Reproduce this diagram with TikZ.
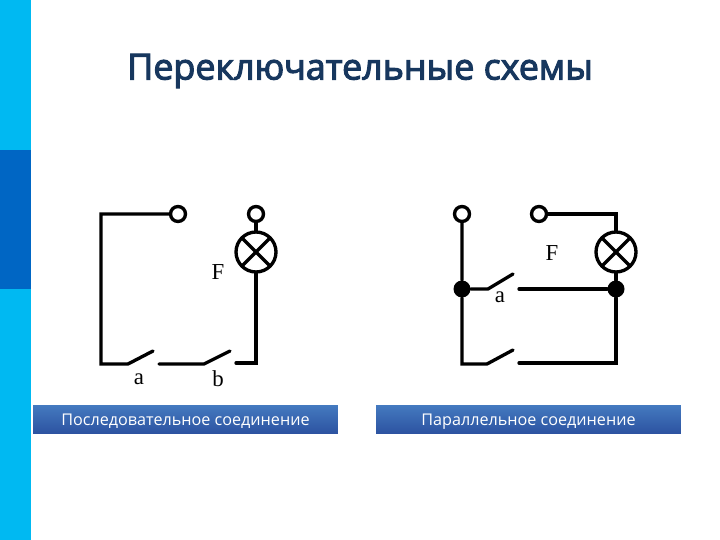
\documentclass[tikz,border=0pt]{standalone}
\usepackage{fontspec}
\setmainfont{Liberation Serif}
\newfontfamily\titlefont{Open Sans}
\newfontfamily\headfont[FakeBold=3]{Open Sans}
\usetikzlibrary{positioning}
\definecolor{swcyan}{RGB}{0,185,242}
\definecolor{swblue}{RGB}{0,102,196}
\definecolor{swnavy}{RGB}{23,55,94}
\definecolor{swbartop}{RGB}{68,122,192}
\definecolor{swbarbot}{RGB}{44,82,160}
\tikzstyle{wire} = [line width=1.9pt, color=black, line cap=round]
\tikzstyle{crossbar} = [line width=1.9pt, color=black, line cap=butt, shorten >=0.5pt, shorten <=0.5pt]
\tikzstyle{terminal} = [circle, draw, line width=1.9pt, fill=white, inner sep=0pt, minimum size=0.3cm]
\tikzstyle{junction} = [circle, fill=black, inner sep=0pt, minimum size=0.34cm]
\tikzstyle{lamp} = [circle, draw, line width=1.9pt, fill=white, inner sep=0pt, minimum size=0.8cm]
\tikzstyle{caption} = [rectangle, minimum width=6.1cm, minimum height=0.58cm, text height=8pt, text depth=1pt, top color=swbartop, bottom color=swbarbot, text=white, font=\titlefont\fontsize{9.2}{10}\selectfont]
\tikzstyle{letter} = [font=\fontsize{13}{15}\selectfont, inner sep=0pt]
\begin{document}
\begin{tikzpicture}[x=0.02cm, y=-0.02cm]
\useasboundingbox (0,0) rectangle (720,540);
% Side strip
\fill[swcyan] (0,0) rectangle (31,540);
\fill[swblue] (0,150) rectangle (31,289);

% Title
\node (title) [text=swnavy, font=\headfont\fontsize{20.4}{22}\selectfont] at (360,71) {Переключательные схемы};

% Series circuit
\node (ltermA) [terminal] at (178,214) {};
\node (ltermB) [terminal] at (256,214) {};
\node (llamp) [lamp] at (256,252) {};
\coordinate (lcorner) at (101,214);
\coordinate (lcornerB) at (101,364);
\coordinate (lhingeA) at (128,364);
\coordinate (ltipA) at (153,351);
\coordinate (lstartB) at (159,364);
\coordinate (lhingeB) at (204,364);
\coordinate (ltipB) at (230,351);
\coordinate (lstartC) at (236,363);
\coordinate (lcornerC) at (256,363);
\draw[wire] (ltermA) -- (lcorner) -- (lcornerB) -- (lhingeA) -- (ltipA);
\draw[wire] (lstartB) -- (lhingeB) -- (ltipB);
\draw[wire] (lstartC) -- (lcornerC) -- (llamp);
\draw[wire] (ltermB) -- (llamp);
\draw[crossbar] (llamp.45) -- (llamp.225);
\draw[crossbar] (llamp.135) -- (llamp.315);

% Parallel circuit
\node (rtermA) [terminal] at (462,214) {};
\node (rtermB) [terminal] at (539,214) {};
\node (rlamp) [lamp] at (616,252) {};
\node (rjoinA) [junction] at (462,289) {};
\node (rjoinB) [junction] at (616,289) {};
\coordinate (rcorner) at (616,214);
\coordinate (rhingeA) at (488,289);
\coordinate (rtipA) at (513,274);
\coordinate (rstartB) at (519,289);
\coordinate (rcornerA) at (462,364);
\coordinate (rhingeC) at (487,364);
\coordinate (rtipC) at (513,350);
\coordinate (rstartD) at (519,363);
\coordinate (rcornerD) at (616,363);
\draw[wire] (rtermA) -- (rjoinA) -- (rcornerA) -- (rhingeC) -- (rtipC);
\draw[wire] (rjoinA) -- (rhingeA) -- (rtipA);
\draw[wire] (rstartB) -- (rjoinB);
\draw[wire] (rstartD) -- (rcornerD) -- (rjoinB) -- (rlamp);
\draw[wire] (rtermB) -- (rcorner) -- (rlamp);
\draw[crossbar] (rlamp.45) -- (rlamp.225);
\draw[crossbar] (rlamp.135) -- (rlamp.315);

% Labels
\node (lblF) [letter] at (218,272) {F};
\node (lbla) [letter] at (139,379) {a};
\node (lblb) [letter] at (218,379) {b};
\node (rblF) [letter] at (552,253) {F};
\node (rbla) [letter] at (500,297) {a};

% Captions
\node (lcaption) [caption] at (185.5,419.5) {Последовательное соединение};
\node (rcaption) [caption] at (528.5,419.5) {Параллельное соединение};
\end{tikzpicture}
\end{document}
